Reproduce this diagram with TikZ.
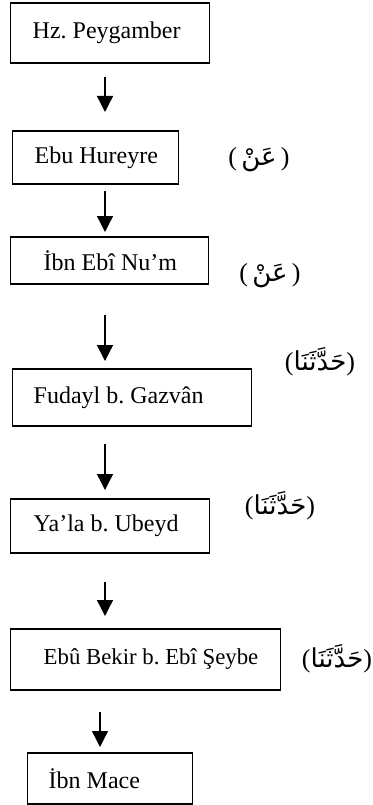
\documentclass[tikz,border=0pt]{standalone}
\usepackage{fontspec}
\setmainfont{Liberation Serif}
\newfontfamily\arabicfont[Script=Arabic]{DejaVu Sans}
\TeXXeTstate=1
\frenchspacing
\usepackage{tikz}
\usetikzlibrary{arrows.meta}
\def\drawarrow{\draw[line width=1.3pt, -{Triangle[width=16pt,length=16pt]}]}
\def\ravi#1#2#3{\makebox[#1][l]{\hspace*{#2}#3}}
\def\ar#1{{\arabicfont\beginR #1\endR}}

\begin{document}
\begin{tikzpicture}[x=1pt,y=-1pt,
  box/.style={draw, line width=1.4pt, anchor=west, inner sep=0pt,
    font=\fontsize{24}{29}\selectfont},
  isnad/.style={font=\fontsize{26}{31}\selectfont, inner sep=0pt}]
\useasboundingbox (0,0) rectangle (372,805);
\node[box, minimum height=60pt] (hz) at (10,33) {\ravi{199pt}{22pt}{Hz. Peygamber}};
\node[box, minimum height=53pt] (ebu) at (12,157.5) {\ravi{166pt}{22pt}{Ebu Hureyre}};
\node[box, minimum height=47pt] (nuaym) at (10,260.5) {\ravi{198pt}{33pt}{İbn Ebî Nu’m}};
\node[box, minimum height=57pt] (fudayl) at (12,397.5) {\ravi{239pt}{21pt}{Fudayl b. Gazvân}};
\node[box, minimum height=54pt] (yala) at (10,526) {\ravi{199pt}{23pt}{Ya’la b. Ubeyd}};
\node[box, minimum height=61pt, font=\fontsize{22.8}{28}\selectfont] (ebubekir) at (10,659.5) {\ravi{270pt}{33pt}{Ebû Bekir b. Ebî Şeybe}};
\node[box, minimum height=51pt] (mace) at (27,778.5) {\ravi{165pt}{21pt}{İbn Mace}};
% sigalar
\node[isnad] (an1) at (259,160) {(\,\ar{عَنْ}\,)};
\node[isnad] (an2) at (270,276) {(\,\ar{عَنْ}\,)};
\node[isnad] (hadd1) at (320,362) {(\ar{حَدَّثَنَا})};
\node[isnad] (hadd2) at (280,506) {(\ar{حَدَّثَنَا})};
\node[isnad] (hadd3) at (337,659) {(\ar{حَدَّثَنَا})};
% oklar
\coordinate (a1s) at (105,77);  \coordinate (a1e) at (105,112);
\coordinate (a2s) at (105,191); \coordinate (a2e) at (105,232);
\coordinate (a3s) at (105,315); \coordinate (a3e) at (105,361);
\coordinate (a4s) at (105,444); \coordinate (a4e) at (105,490);
\coordinate (a5s) at (105,582); \coordinate (a5e) at (105,616);
\coordinate (a6s) at (100,712); \coordinate (a6e) at (100,747);
\drawarrow (a1s) -- (a1e);
\drawarrow (a2s) -- (a2e);
\drawarrow (a3s) -- (a3e);
\drawarrow (a4s) -- (a4e);
\drawarrow (a5s) -- (a5e);
\drawarrow (a6s) -- (a6e);
\end{tikzpicture}
\end{document}
